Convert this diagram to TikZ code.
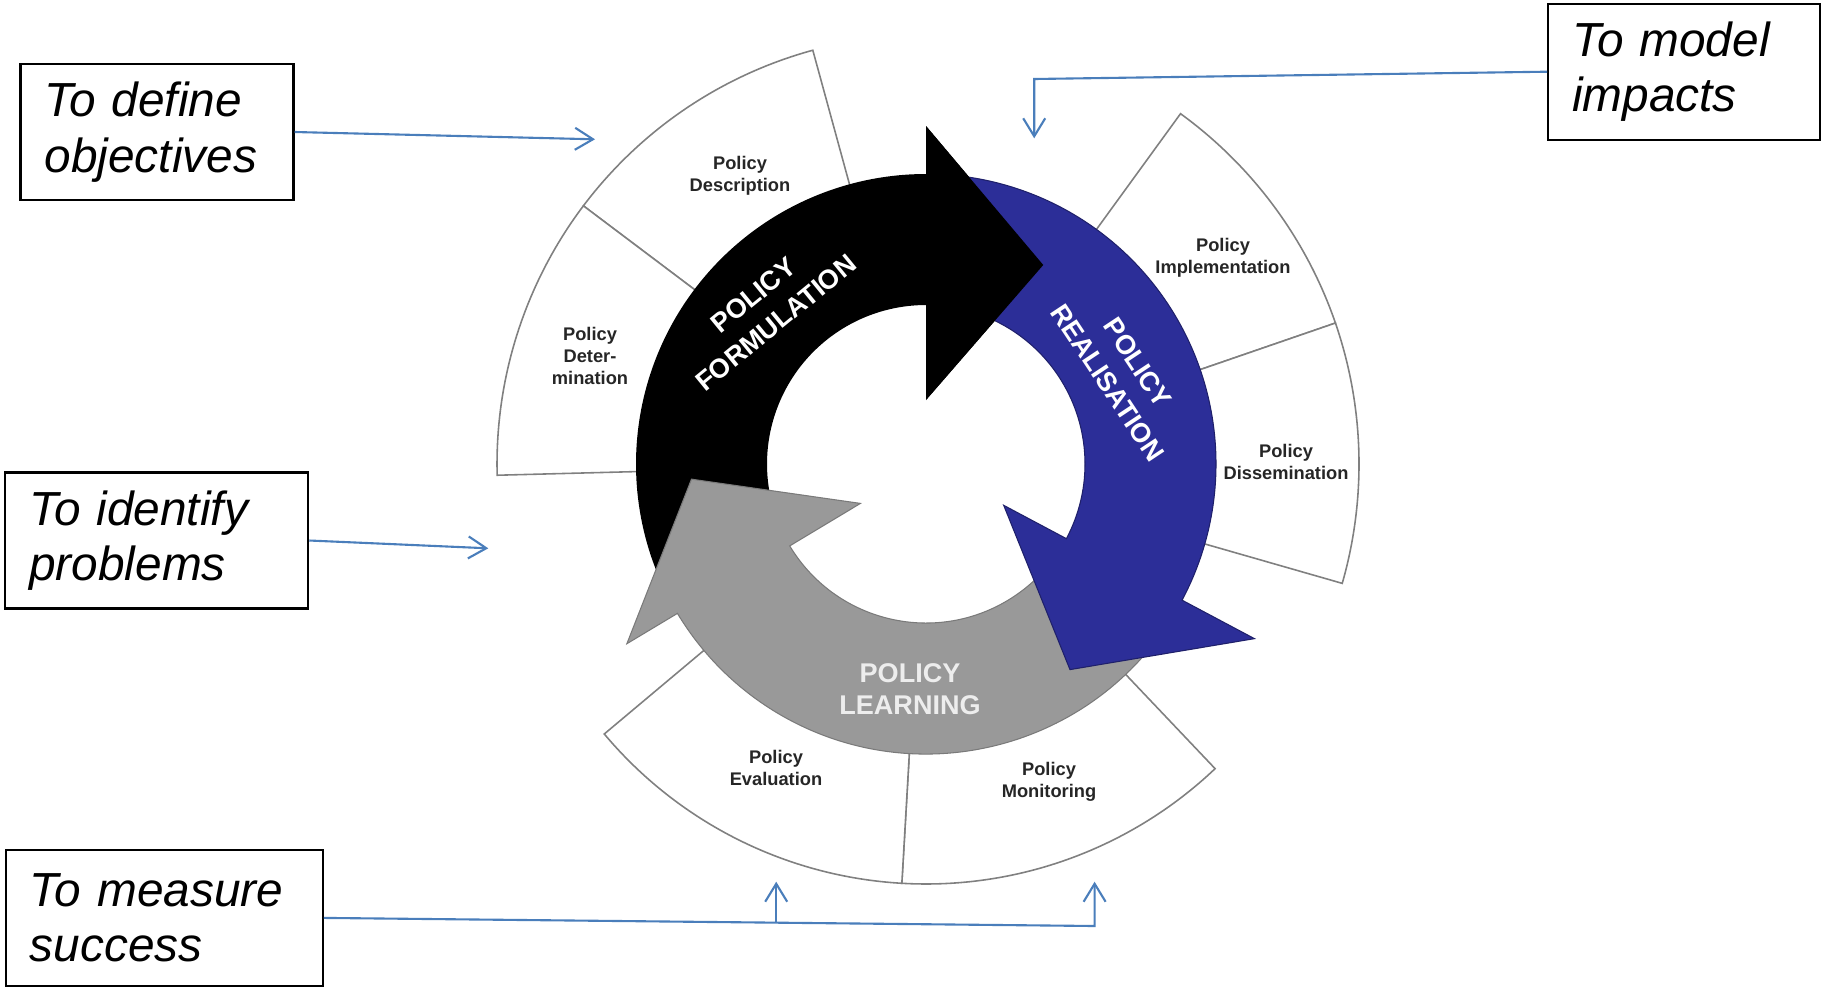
\documentclass[tikz,border=0pt]{standalone}
\usepackage{fontspec}
\setmainfont{Liberation Sans}
\usepackage{tikz}
\usetikzlibrary{arrows.meta,positioning,calc}
\definecolor{cycblue}{RGB}{44,46,152}
\definecolor{cycgray}{RGB}{153,153,153}
\definecolor{linkblue}{RGB}{74,126,187}
\definecolor{rimgray}{RGB}{128,128,128}

\begin{document}
\begin{tikzpicture}[
    goal/.style={rectangle, draw=black, line width=0.6pt, fill=white, inner xsep=0.24cm, inner ysep=0pt, minimum height=1.36cm, align=left, font=\fontsize{13.6pt}{15.8pt}\selectfont\itshape},
    link/.style={-{Straight Barb[length=0.18cm, width=0.22cm]}, draw=linkblue, line width=0.6pt},
    sector/.style={draw=rimgray, line width=0.45pt, fill=white},
    stage/.style={align=center, text=black!85, font=\fontsize{5.2pt}{6.2pt}\selectfont\bfseries},
    phase/.style={align=center, text=white, font=\fontsize{7.7pt}{10.2pt}\selectfont\bfseries}
]

\useasboundingbox (0,0) rectangle (18.25,-9.87);

\begin{scope}[shift={(9.26,-4.64)}]
% Outer sectors
\draw[sector] (105.3:2.85) -- (105.3:4.29) arc[start angle=105.3, end angle=143, radius=4.29] -- (143:2.85) arc[start angle=143, end angle=105.3, radius=2.85] -- cycle;
\draw[sector] (143:2.85) -- (143:4.29) arc[start angle=143, end angle=181.5, radius=4.29] -- (181.5:2.85) arc[start angle=181.5, end angle=143, radius=2.85] -- cycle;
\draw[sector] (54:2.85) -- (54:4.33) arc[start angle=54, end angle=19, radius=4.33] -- (19:2.85) arc[start angle=19, end angle=54, radius=2.85] -- cycle;
\draw[sector] (19:2.85) -- (19:4.33) arc[start angle=19, end angle=-16, radius=4.33] -- (-16:2.85) arc[start angle=-16, end angle=19, radius=2.85] -- cycle;
\draw[sector] (-46.5:2.85) -- (-46.5:4.20) arc[start angle=-46.5, end angle=-93.3, radius=4.20] -- (-93.3:2.85) arc[start angle=-93.3, end angle=-46.5, radius=2.85] -- cycle;
\draw[sector] (-93.3:2.85) -- (-93.3:4.20) arc[start angle=-93.3, end angle=-140, radius=4.20] -- (-140:2.85) arc[start angle=-140, end angle=-93.3, radius=2.85] -- cycle;

% Cycle arrows
\fill[black] (205:2.90) arc[start angle=205, end angle=90, radius=2.90] -- (90:3.38) -- (59.5:2.31) -- (90:0.64) -- (90:1.59) arc[start angle=90, end angle=205, radius=1.59] -- cycle;
\filldraw[fill=cycgray, draw=cycgray!80!black, line width=0.3pt] (-30:2.90) arc[start angle=-30, end angle=-149, radius=2.90] -- (-149:3.49) -- (-176.3:2.35) -- (-149:0.765) -- (-149:1.59) arc[start angle=-149, end angle=-30, radius=1.59] -- cycle;
\filldraw[fill=cycblue, draw=cycblue!70!black, line width=0.3pt] (84:2.90) arc[start angle=84, end angle=-28, radius=2.90] -- (-28:3.72) -- (-55:2.51) -- (-28:0.88) -- (-28:1.59) arc[start angle=-28, end angle=84, radius=1.59] -- cycle;
\fill[black] (90:3.38) -- (59.5:2.31) -- (90:0.64) -- cycle;
\end{scope}

% Phase labels
\node[phase, rotate=39.3] (formulation) at (7.645,-3.09) {POLICY\\FORMULATION};
\node[phase, rotate=-56.4] (realisation) at (11.227,-3.727) {POLICY\\REALISATION};
\node[phase, text=black!7, font=\fontsize{7.7pt}{9.2pt}\selectfont\bfseries] (learning) at (9.10,-6.89) {POLICY\\LEARNING};

% Stage labels
\node[stage] (description) at (7.40,-1.76) {Policy\\Description};
\node[stage] (determination) at (5.90,-3.56) {Policy\\Deter-\\mination};
\node[stage] (implementation) at (12.23,-2.58) {Policy\\Implementation};
\node[stage] (dissemination) at (12.86,-4.62) {Policy\\Dissemination};
\node[stage] (evaluation) at (7.76,-7.68) {Policy\\Evaluation};
\node[stage] (monitoring) at (10.49,-7.82) {Policy\\Monitoring};

% Goal boxes
\node[goal, text width=2.25cm] (define) at (1.57,-1.32) {To define\\objectives};
\node[goal, text width=2.55cm] (identify) at (1.567,-5.405) {To identify\\problems};
\node[goal, text width=2.69cm] (measure) at (1.644,-9.179) {To measure\\success};
\node[goal, text width=2.24cm] (model) at (16.842,-0.717) {To model\\impacts};

% Link ends
\coordinate (defineTip) at (5.95,-1.393);
\coordinate (identifyTip) at (4.883,-5.483);
\coordinate (modelBend) at (10.342,-0.79);
\coordinate (modelTip) at (10.342,-1.383);
\coordinate (measureBend) at (10.946,-9.26);
\coordinate (monitorTip) at (10.946,-8.817);
\coordinate (evalFoot) at (7.762,-9.228);
\coordinate (evalTip) at (7.762,-8.817);

% Links
\draw[link] (define.east) -- (defineTip);
\draw[link] (identify.east) -- (identifyTip);
\draw[link] (model.west) -- (modelBend) -- (modelTip);
\draw[link] (measure.east) -- (measureBend) -- (monitorTip);
\draw[link] (evalFoot) -- (evalTip);

\end{tikzpicture}
\end{document}
